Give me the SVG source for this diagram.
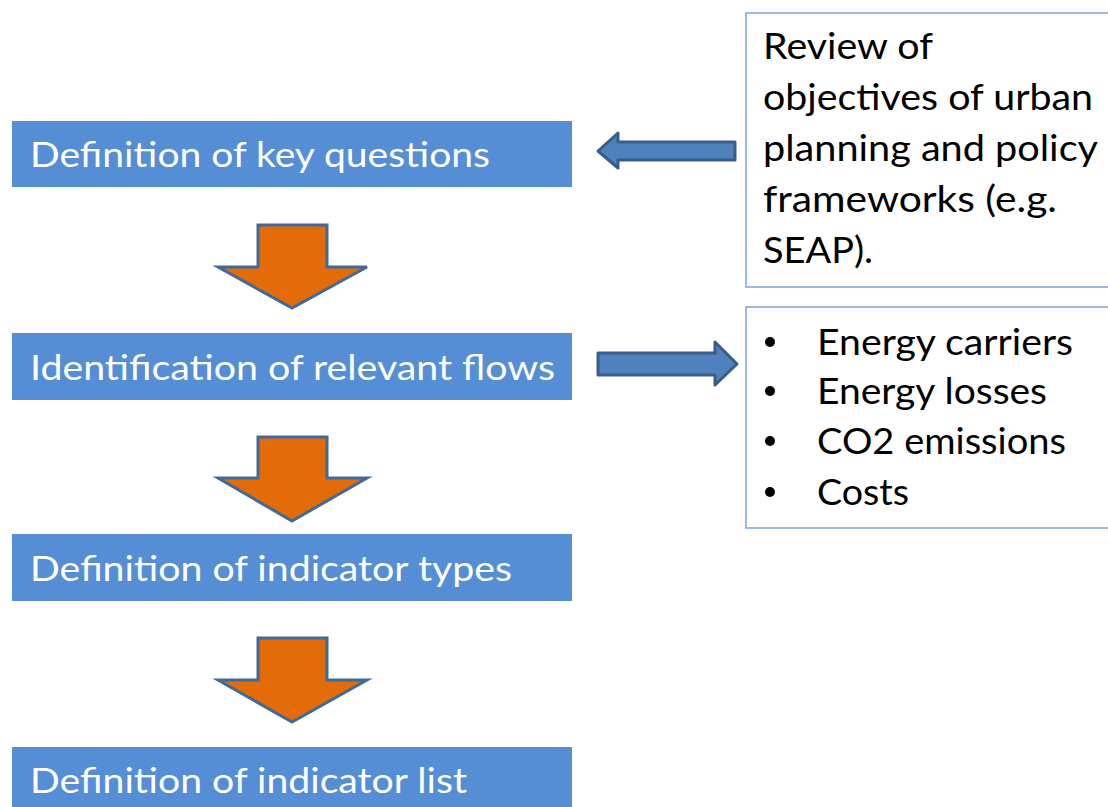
<svg xmlns="http://www.w3.org/2000/svg" width="1108" height="807" viewBox="0 0 1108 807">
<style>
.step{fill:#558ED5;}
.stxt{fill:#FFFFFF;font-family:Lato,"Liberation Sans",sans-serif;font-size:35px;}
.side{fill:#FFFFFF;stroke:#7BA3DC;stroke-width:1.5;}
.btxt{fill:#000000;font-family:Lato,"Liberation Sans",sans-serif;font-size:36px;}
.down{fill:#E36C09;stroke:#3F6A9B;stroke-width:3;stroke-linejoin:miter;}
.side-arrow{fill:#4F81BD;stroke:#385D8A;stroke-width:3;stroke-linejoin:round;}
</style>
<rect width="1108" height="807" fill="#FFFFFF"/>
<g id="step1"><rect class="step" x="12" y="121" width="560" height="66"/><text class="stxt" x="30" y="167" textLength="460" lengthAdjust="spacingAndGlyphs">Definition of key questions</text></g>
<g id="step2"><rect class="step" x="12" y="333" width="560" height="67"/><text class="stxt" x="30" y="380" textLength="525" lengthAdjust="spacingAndGlyphs">Identification of relevant flows</text></g>
<g id="step3"><rect class="step" x="12" y="534" width="560" height="67"/><text class="stxt" x="30" y="581" textLength="482" lengthAdjust="spacingAndGlyphs">Definition of indicator types</text></g>
<g id="step4"><rect class="step" x="12" y="747" width="560" height="70"/><text class="stxt" x="30" y="793" textLength="437" lengthAdjust="spacingAndGlyphs">Definition of indicator list</text></g>
<g id="review"><rect class="side" x="746" y="13" width="370" height="274"/>
<text class="btxt"><tspan x="763" y="59" textLength="170" lengthAdjust="spacingAndGlyphs">Review of</tspan><tspan x="763" y="110" textLength="330" lengthAdjust="spacingAndGlyphs">objectives of urban</tspan><tspan x="763" y="161" textLength="335" lengthAdjust="spacingAndGlyphs">planning and policy</tspan><tspan x="763" y="212" textLength="294" lengthAdjust="spacingAndGlyphs">frameworks (e.g.</tspan><tspan x="763" y="263" textLength="110" lengthAdjust="spacingAndGlyphs">SEAP).</tspan></text></g>
<g id="flows"><rect class="side" x="746" y="307" width="370" height="221"/>
<g fill="#000000"><circle cx="770" cy="342" r="5"/><circle cx="770" cy="391" r="5"/><circle cx="770" cy="441" r="5"/><circle cx="770" cy="492" r="5"/></g>
<text class="btxt"><tspan x="817" y="355" textLength="256" lengthAdjust="spacingAndGlyphs">Energy carriers</tspan><tspan x="817" y="404" textLength="230" lengthAdjust="spacingAndGlyphs">Energy losses</tspan><tspan x="817" y="454" textLength="249" lengthAdjust="spacingAndGlyphs">CO2 emissions</tspan><tspan x="817" y="505" textLength="92" lengthAdjust="spacingAndGlyphs">Costs</tspan></text></g>
<g id="connectors">
<polygon class="down" points="258,225 327,225 327,267 367,267 292,308 218,267 258,267"/>
<polygon class="down" points="258,437 327,437 327,478 367,478 292,521 218,478 258,478"/>
<polygon class="down" points="258,638 327,638 327,680 367,680 292,722 218,680 258,680"/>
<polygon class="side-arrow" points="735,142 618,142 618,133 598,151 618,168 618,160 735,160"/>
<polygon class="side-arrow" points="598,353 715,353 715,342 737,364 715,385 715,375 598,375"/>
</g>
</svg>
